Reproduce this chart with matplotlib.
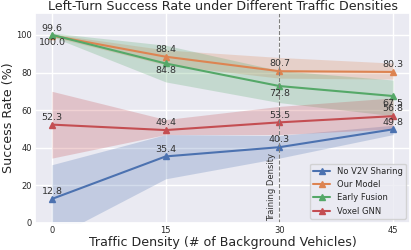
import matplotlib
matplotlib.use("Agg")
import matplotlib.pyplot as plt
import seaborn as sns

sns.set_theme(style="darkgrid")

density = [0, 15, 30, 45]

no_v2v = [12.8, 35.4, 40.3, 49.8]
no_v2v_lo = [-8, 23.5, 34.5, 47]
no_v2v_hi = [31, 47, 46.5, 52]

our_model = [99.6, 88.4, 80.7, 80.3]
our_model_lo = [99, 84, 77, 76.5]
our_model_hi = [100.5, 92, 88, 85]

early_fusion = [100.0, 84.8, 72.8, 67.5]
early_fusion_lo = [99, 75, 64, 57]
early_fusion_hi = [101, 94.5, 81, 76]

voxel_gnn = [52.3, 49.4, 53.5, 56.8]
voxel_gnn_lo = [34.5, 47, 47, 50]
voxel_gnn_hi = [70, 55, 62, 66.5]

series = [
    ("No V2V Sharing", no_v2v, no_v2v_lo, no_v2v_hi, "above"),
    ("Our Model", our_model, our_model_lo, our_model_hi, "above"),
    ("Early Fusion", early_fusion, early_fusion_lo, early_fusion_hi, "below"),
    ("Voxel GNN", voxel_gnn, voxel_gnn_lo, voxel_gnn_hi, "above"),
]
colors = sns.color_palette("deep")

fig, ax = plt.subplots(figsize=(4.11, 2.5), dpi=100)
fig.subplots_adjust(left=0.085, right=0.998, top=0.947, bottom=0.108)

for i, (name, y, lo, hi, pos) in enumerate(series):
    c = colors[i]
    ax.fill_between(density, lo, hi, color=c, alpha=0.25, linewidth=0)
    ax.plot(density, y, marker="^", color=c, label=name, linewidth=1.5, markersize=4.5)
    for xv, yv in zip(density, y):
        off = 2 if pos == "above" else -2
        va = "bottom" if pos == "above" else "top"
        ax.annotate(f"{yv:.1f}", (xv, yv), xytext=(0, off), textcoords="offset points",
                    ha="center", va=va, fontsize=6.8, color="#333333")

ax.axvline(30, color="gray", linestyle="--", linewidth=0.8)
ax.text(29.6, 1, "Training Density", rotation=90, ha="right", va="bottom", fontsize=6, color="#333333")

ax.set_xticks(density)
ax.set_xlim(-2.25, 47.25)
ax.set_ylim(0, 111.5)
ax.tick_params(labelsize=6, pad=2, length=0)
ax.set_title("Left-Turn Success Rate under Different Traffic Densities", fontsize=9.1, pad=2)
ax.set_xlabel("Traffic Density (# of Background Vehicles)", fontsize=9.1, labelpad=1)
ax.set_ylabel("Success Rate (%)", fontsize=9.1, labelpad=1)
ax.legend(loc="lower right", fontsize=6)

fig.savefig("out.png", dpi=100)
